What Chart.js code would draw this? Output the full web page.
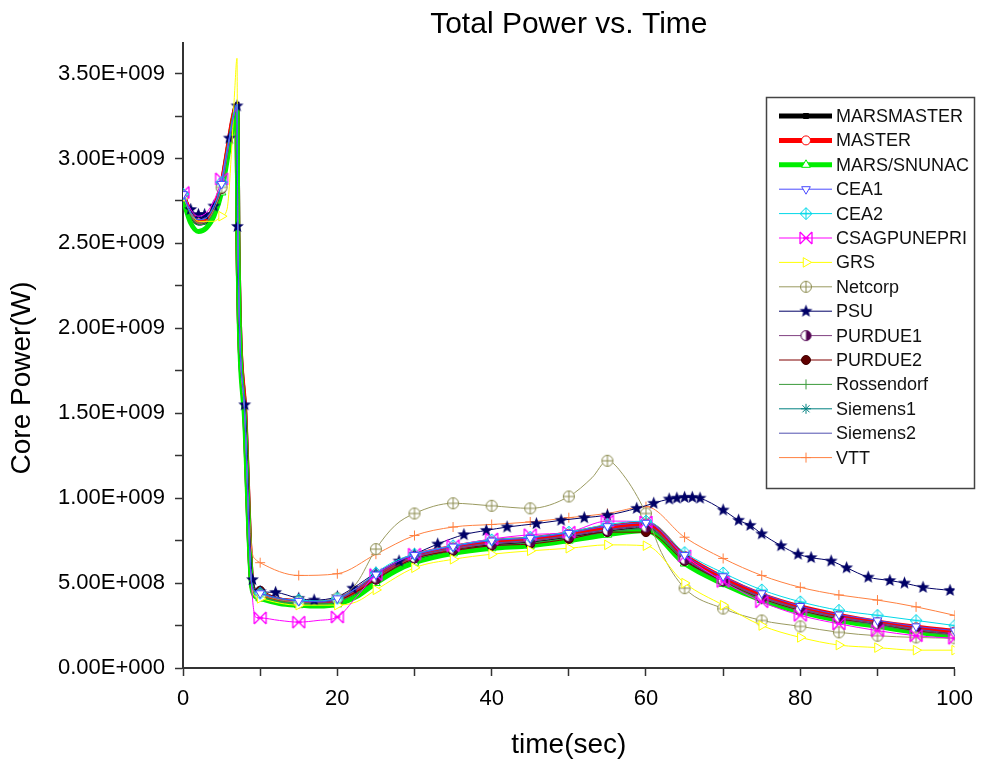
<!DOCTYPE html>
<html>
<head>
<meta charset="utf-8">
<script src="https://cdn.jsdelivr.net/npm/chart.js"></script>
<style>
  html, body { margin: 0; padding: 0; background: #fff; }
  #wrap { width: 983px; height: 773px; }
</style>
</head>
<body>
<div id="wrap"><canvas id="powerChart" width="983" height="773"></canvas></div>
<script>
// time points (sec) and core power (values in 1e9 W)
const tMain = [0, 1, 2, 3, 4, 5, 5.5, 6, 6.5, 7, 7.1, 8, 8.9, 9.4, 10, 12.5, 15, 17.5, 20, 22.5,
  25, 27.5, 30, 35, 40, 45, 50, 55, 60, 65, 70, 75, 80, 85, 90, 95, 100];

const marsMaster = [2.78, 2.67, 2.62, 2.63, 2.70, 2.83, 2.96, 3.10, 3.23, 3.32, 2.58, 1.50, 0.50, 0.44, 0.43, 0.40, 0.385, 0.38, 0.395, 0.45,
  0.53, 0.60, 0.645, 0.695, 0.725, 0.74, 0.77, 0.805, 0.825, 0.635, 0.51, 0.41, 0.34, 0.29, 0.255, 0.22, 0.19];
const master = [2.78, 2.68, 2.63, 2.64, 2.71, 2.84, 2.97, 3.11, 3.24, 3.31, 2.57, 1.52, 0.50, 0.43, 0.42, 0.40, 0.39, 0.385, 0.40, 0.46,
  0.54, 0.61, 0.66, 0.71, 0.745, 0.76, 0.79, 0.83, 0.85, 0.66, 0.53, 0.43, 0.36, 0.31, 0.27, 0.24, 0.215];
const marsSnunac = [2.76, 2.62, 2.57, 2.59, 2.66, 2.80, 2.93, 3.07, 3.20, 3.30, 2.55, 1.45, 0.48, 0.42, 0.41, 0.38, 0.37, 0.365, 0.375, 0.42,
  0.50, 0.57, 0.62, 0.675, 0.705, 0.72, 0.75, 0.785, 0.81, 0.615, 0.495, 0.40, 0.33, 0.28, 0.245, 0.21, 0.185];
const cea1 = [2.79, 2.68, 2.64, 2.65, 2.72, 2.85, 2.98, 3.11, 3.24, 3.32, 2.58, 1.50, 0.50, 0.45, 0.44, 0.41, 0.395, 0.39, 0.41, 0.47,
  0.55, 0.62, 0.665, 0.715, 0.75, 0.765, 0.795, 0.835, 0.855, 0.665, 0.54, 0.44, 0.365, 0.315, 0.28, 0.245, 0.22];
const cea2 = [2.79, 2.68, 2.64, 2.65, 2.72, 2.86, 2.99, 3.12, 3.25, 3.32, 2.58, 1.50, 0.50, 0.45, 0.44, 0.41, 0.40, 0.395, 0.41, 0.47,
  0.56, 0.63, 0.67, 0.72, 0.755, 0.77, 0.80, 0.845, 0.865, 0.68, 0.56, 0.46, 0.39, 0.34, 0.31, 0.28, 0.25];
const csag = [2.80, 2.70, 2.66, 2.68, 2.75, 2.88, 3.00, 3.12, 3.24, 3.30, 2.58, 1.50, 0.48, 0.30, 0.295, 0.28, 0.27, 0.28, 0.30, 0.42,
  0.55, 0.62, 0.67, 0.72, 0.76, 0.785, 0.80, 0.865, 0.86, 0.66, 0.51, 0.39, 0.31, 0.26, 0.22, 0.19, 0.175];
const purdue1 = [2.78, 2.67, 2.62, 2.63, 2.70, 2.84, 2.97, 3.10, 3.23, 3.32, 2.58, 1.50, 0.50, 0.45, 0.44, 0.40, 0.39, 0.385, 0.40, 0.46,
  0.53, 0.60, 0.65, 0.70, 0.73, 0.745, 0.775, 0.81, 0.83, 0.64, 0.515, 0.415, 0.345, 0.295, 0.26, 0.225, 0.195];
const purdue2 = [2.78, 2.67, 2.62, 2.63, 2.70, 2.82, 2.96, 3.10, 3.23, 3.32, 2.58, 1.50, 0.50, 0.46, 0.455, 0.41, 0.40, 0.395, 0.40, 0.45,
  0.52, 0.59, 0.645, 0.69, 0.72, 0.73, 0.76, 0.80, 0.80, 0.63, 0.51, 0.41, 0.34, 0.29, 0.26, 0.22, 0.20];
const rossendorf = [2.78, 2.66, 2.61, 2.62, 2.69, 2.82, 2.95, 3.09, 3.22, 3.31, 2.57, 1.48, 0.49, 0.43, 0.42, 0.39, 0.38, 0.375, 0.39, 0.44,
  0.52, 0.59, 0.64, 0.69, 0.72, 0.735, 0.765, 0.80, 0.82, 0.63, 0.505, 0.405, 0.335, 0.285, 0.25, 0.215, 0.19];
const siemens1 = [2.78, 2.66, 2.61, 2.62, 2.69, 2.82, 2.95, 3.09, 3.22, 3.31, 2.57, 1.48, 0.49, 0.43, 0.42, 0.39, 0.38, 0.375, 0.39, 0.44,
  0.52, 0.59, 0.64, 0.69, 0.72, 0.735, 0.765, 0.80, 0.82, 0.63, 0.505, 0.405, 0.335, 0.29, 0.255, 0.22, 0.195];
const siemens2 = [2.79, 2.69, 2.65, 2.66, 2.72, 2.85, 2.98, 3.11, 3.24, 3.32, 2.58, 1.52, 0.51, 0.45, 0.44, 0.41, 0.395, 0.39, 0.405, 0.46,
  0.54, 0.61, 0.655, 0.705, 0.735, 0.75, 0.78, 0.815, 0.835, 0.645, 0.52, 0.42, 0.35, 0.30, 0.265, 0.23, 0.20];

const tGrs = [0, 2, 4, 5, 5.7, 6.3, 6.7, 7, 7.1, 8, 8.9, 9.4, 10, 15, 20, 22.5, 25, 30, 35, 40, 45, 50, 55, 60, 65, 70, 75, 80, 85, 90, 95, 100];
const grs = [2.77, 2.63, 2.63, 2.66, 2.70, 3.05, 3.40, 3.59, 2.60, 1.50, 0.48, 0.42, 0.41, 0.37, 0.37, 0.39, 0.46, 0.59, 0.64, 0.67, 0.69, 0.705,
  0.725, 0.72, 0.50, 0.37, 0.25, 0.18, 0.135, 0.12, 0.105, 0.105];

const tNet = [0, 1, 2, 3, 4, 5, 5.5, 6, 6.5, 7, 7.1, 8, 8.9, 9.4, 10, 15, 20, 22.5, 25, 27.5, 30, 35, 40, 45, 50, 53, 55, 57, 60, 62, 65,
  70, 75, 80, 85, 90, 95, 100];
const netcorp = [2.78, 2.67, 2.62, 2.63, 2.70, 2.83, 2.96, 3.10, 3.23, 3.31, 2.58, 1.50, 0.50, 0.44, 0.43, 0.39, 0.41, 0.50, 0.70, 0.84,
  0.91, 0.97, 0.955, 0.94, 1.01, 1.12, 1.22, 1.14, 0.91, 0.68, 0.47, 0.35, 0.28, 0.245, 0.21, 0.19, 0.18, 0.175];

const tPsu = [0, 1, 2, 2.8, 4, 5, 6, 7, 7.05, 8, 9, 10, 12, 15, 17, 20, 22, 25, 28, 30, 33, 36.4, 39.3, 42, 45.8, 49, 52, 55, 58.8, 61,
  63, 64, 65, 66, 67, 70, 72, 73.5, 75, 77.5, 79.7, 81.4, 84, 86, 88.8, 91.6, 93.5, 95.9, 99.4];
const psu = [2.79, 2.70, 2.67, 2.67, 2.72, 2.85, 3.12, 3.31, 2.60, 1.55, 0.52, 0.45, 0.445, 0.41, 0.40, 0.42, 0.47, 0.56, 0.63, 0.67,
  0.73, 0.785, 0.81, 0.83, 0.85, 0.87, 0.885, 0.90, 0.94, 0.97, 0.995, 1.0, 1.005, 1.005, 1.0, 0.93, 0.87, 0.84, 0.79, 0.72, 0.67,
  0.65, 0.63, 0.59, 0.535, 0.515, 0.50, 0.475, 0.457];

const tVtt = [0, 1, 2, 3, 4, 5, 5.5, 6, 6.5, 7, 7.1, 8, 8.9, 9.4, 10, 15, 20, 25, 30, 35, 40, 45, 50, 55, 60, 65, 70, 75, 80, 85, 90, 95, 100];
const vtt = [2.78, 2.67, 2.62, 2.63, 2.70, 2.83, 2.96, 3.10, 3.23, 3.31, 2.58, 1.50, 0.70, 0.64, 0.62, 0.545, 0.555, 0.67, 0.78, 0.83,
  0.845, 0.86, 0.885, 0.91, 0.95, 0.77, 0.645, 0.545, 0.475, 0.43, 0.40, 0.36, 0.31];

const xTicks = [0, 10, 20, 30, 40, 50, 60, 70, 80, 90, 100];
const yTicks = [0, 2.5e8, 5e8, 7.5e8, 1e9, 1.25e9, 1.5e9, 1.75e9, 2e9, 2.25e9, 2.5e9, 2.75e9, 3e9, 3.25e9, 3.5e9];

const FONT = "'Liberation Sans', Arial, sans-serif";

// small marker images
function mk(size, draw) {
  const c = document.createElement('canvas');
  c.width = c.height = size;
  const g = c.getContext('2d');
  g.translate(size / 2, size / 2);
  draw(g);
  return c;
}
const starImg = mk(15, g => {
  g.beginPath();
  for (let i = 0; i < 10; i++) {
    const r = i % 2 ? 2.9 : 6.8;
    const a = -Math.PI / 2 + i * Math.PI / 5;
    g.lineTo(r * Math.cos(a), r * Math.sin(a));
  }
  g.closePath();
  g.fillStyle = '#000066';
  g.fill();
});
const circlePlus = mk(14, g => {
  g.strokeStyle = '#8c8c50'; g.lineWidth = 1;
  g.beginPath(); g.arc(0, 0, 5.5, 0, Math.PI * 2); g.fillStyle = '#fff'; g.fill(); g.stroke();
  g.beginPath(); g.moveTo(-5.5, 0); g.lineTo(5.5, 0); g.moveTo(0, -5.5); g.lineTo(0, 5.5); g.stroke();
});
const diamondPlus = mk(14, g => {
  g.strokeStyle = '#00d8e8'; g.lineWidth = 1;
  g.beginPath(); g.moveTo(0, -6); g.lineTo(6, 0); g.lineTo(0, 6); g.lineTo(-6, 0); g.closePath(); g.stroke();
  g.beginPath(); g.moveTo(-6, 0); g.lineTo(6, 0); g.moveTo(0, -6); g.lineTo(0, 6); g.stroke();
});
const bowX = mk(16, g => {
  g.strokeStyle = '#ff00ff'; g.lineWidth = 1.3;
  g.beginPath();
  g.moveTo(-6, -6); g.lineTo(6, 6); g.moveTo(-6, 6); g.lineTo(6, -6);
  g.moveTo(-6, -6); g.lineTo(-6, 6); g.moveTo(6, -6); g.lineTo(6, 6);
  g.moveTo(-3, 0); g.lineTo(3, 0);
  g.stroke();
});
const halfCircle = mk(13, g => {
  g.strokeStyle = '#500050'; g.lineWidth = 1;
  g.beginPath(); g.arc(0, 0, 5, 0, Math.PI * 2); g.fillStyle = '#fff'; g.fill(); g.stroke();
  g.beginPath(); g.arc(0, 0, 5, -Math.PI / 2, Math.PI / 2); g.closePath(); g.fillStyle = '#500050'; g.fill();
});

const pts = (t, v) => t.map((x, i) => ({ x: x, y: v[i] * 1e9 }));
const onFive = x => Math.abs(x / 5 - Math.round(x / 5)) < 1e-6;

// label, data, look
const series = [
  { label: 'MARSMASTER', data: pts(tMain, marsMaster), color: '#000000', width: 5, style: 'rect', r: 3.5, fill: '#000000', order: 3 },
  { label: 'MASTER', data: pts(tMain, master), color: '#ff0000', width: 5, style: 'circle', r: 4.5, fill: '#ffffff', order: 2 },
  { label: 'MARS/SNUNAC', data: pts(tMain, marsSnunac), color: '#00ee00', width: 5, style: 'triangle', r: 5, fill: '#ffffff', order: 1 },
  { label: 'CEA1', data: pts(tMain, cea1), color: '#4a4aff', width: 1, style: 'triangle', rot: 180, r: 5, fill: '#ffffff' },
  { label: 'CEA2', data: pts(tMain, cea2), color: '#00d8e8', width: 1, style: diamondPlus, r: 5 },
  { label: 'CSAGPUNEPRI', data: pts(tMain, csag), color: '#ff00ff', width: 1, style: bowX, r: 5 },
  { label: 'GRS', data: pts(tGrs, grs), color: '#ffff00', width: 1, style: 'triangle', rot: 90, r: 5.5, fill: '#ffffff' },
  { label: 'Netcorp', data: pts(tNet, netcorp), color: '#9a9a60', width: 1, style: circlePlus, r: 5 },
  { label: 'PSU', data: pts(tPsu, psu), color: '#000066', width: 1, style: starImg, r: 5, all: true },
  { label: 'PURDUE1', data: pts(tMain, purdue1), color: '#804080', width: 1, style: halfCircle, r: 5 },
  { label: 'PURDUE2', data: pts(tMain, purdue2), color: '#800000', width: 1, style: 'circle', r: 4.5, fill: '#600000', border: '#400000' },
  { label: 'Rossendorf', data: pts(tMain, rossendorf), color: '#3a9a3a', width: 1, style: 'line', rot: 90, r: 5 },
  { label: 'Siemens1', data: pts(tMain, siemens1), color: '#008080', width: 1, style: 'star', r: 5 },
  { label: 'Siemens2', data: pts(tMain, siemens2), color: '#5050b0', width: 1, style: false, r: 0 },
  { label: 'VTT', data: pts(tVtt, vtt), color: '#ff8040', width: 1, style: 'cross', r: 5 }
];

const datasets = series.map(s => ({
  label: s.label,
  data: s.data,
  borderColor: s.color,
  borderWidth: s.width,
  pointStyle: s.style,
  pointRotation: s.rot || 0,
  pointBackgroundColor: s.fill || s.color,
  pointBorderColor: s.border || s.color,
  pointBorderWidth: 1,
  pointRadius: c => (s.r && (s.all || onFive(c.raw.x))) ? s.r : 0,
  cubicInterpolationMode: 'monotone',
  fill: false,
  order: s.order || 0
}));

function sci(v) {
  if (v === 0) return '0.00E+000';
  const e = Math.floor(Math.log10(v) + 1e-9);
  return (v / Math.pow(10, e)).toFixed(2) + 'E+' + String(e).padStart(3, '0');
}

// y axis title + framed legend inside the plot
const overlay = {
  id: 'overlay',
  afterDraw(chart) {
    const ctx = chart.ctx;
    ctx.save();
    ctx.fillStyle = '#000';
    ctx.font = '28px ' + FONT;
    ctx.textAlign = 'center';
    ctx.textBaseline = 'middle';
    ctx.translate(22, 378);
    ctx.rotate(-Math.PI / 2);
    ctx.fillText('Core Power(W)', 0, 0);
    ctx.restore();

    const bx = 766.5, by = 97.5, bw = 208, bh = 391;
    ctx.save();
    ctx.fillStyle = '#fff';
    ctx.fillRect(bx, by, bw, bh);
    ctx.strokeStyle = '#444';
    ctx.lineWidth = 1.5;
    ctx.strokeRect(bx, by, bw, bh);
    series.forEach((s, i) => {
      const y = 116 + i * 24.4;
      ctx.strokeStyle = s.color;
      ctx.lineWidth = s.width;
      ctx.beginPath();
      ctx.moveTo(779, y);
      ctx.lineTo(832, y);
      ctx.stroke();
      if (s.style) {
        ctx.strokeStyle = s.border || s.color;
        ctx.fillStyle = s.fill || s.color;
        ctx.lineWidth = 1;
        Chart.helpers.drawPoint(ctx, { pointStyle: s.style, radius: s.r, rotation: s.rot || 0, borderWidth: 1 }, 806, y);
      }
      ctx.fillStyle = '#111';
      ctx.font = '18px ' + FONT;
      ctx.textAlign = 'left';
      ctx.textBaseline = 'middle';
      ctx.fillText(s.label, 836, y + 1);
    });
    ctx.restore();
  }
};

new Chart(document.getElementById('powerChart'), {
  type: 'line',
  data: { datasets: datasets },
  plugins: [overlay],
  options: {
    responsive: false,
    devicePixelRatio: 1,
    animation: false,
    events: [],
    layout: { padding: { left: 0, right: 26, top: 0, bottom: 0 } },
    plugins: {
      legend: { display: false },
      tooltip: { enabled: false },
      title: {
        display: true,
        text: 'Total Power vs. Time',
        fullSize: false,
        color: '#000',
        font: { family: FONT, size: 30, weight: 'normal' },
        padding: { top: 7, bottom: 0 }
      }
    },
    scales: {
      x: {
        type: 'linear',
        min: 0,
        max: 100,
        afterBuildTicks: s => { s.ticks = xTicks.map(v => ({ value: v })); },
        afterFit: s => { s.height = 105; },
        border: { color: '#333', width: 2 },
        grid: { drawOnChartArea: false, tickLength: 8, tickColor: '#333', tickWidth: 1.5 },
        ticks: {
          autoSkip: false,
          maxRotation: 0,
          padding: 10,
          color: '#000',
          font: { family: FONT, size: 22 },
          callback: v => (v % 20 === 0 ? String(v) : '')
        },
        title: {
          display: true,
          text: 'time(sec)',
          color: '#000',
          font: { family: FONT, size: 28 },
          padding: { top: 0, bottom: 11 }
        }
      },
      y: {
        min: 0,
        max: 3.68e9,
        afterBuildTicks: s => { s.ticks = yTicks.map(v => ({ value: v })); },
        afterFit: s => { s.width = 183; },
        border: { color: '#333', width: 2 },
        grid: { drawOnChartArea: false, tickLength: 8, tickColor: '#333', tickWidth: 1.5 },
        ticks: {
          autoSkip: false,
          padding: 10,
          color: '#000',
          font: { family: FONT, size: 22 },
          callback: v => (Math.round(v / 5e8) * 5e8 === v ? sci(v) : '')
        }
      }
    }
  }
});
</script>
</body>
</html>
